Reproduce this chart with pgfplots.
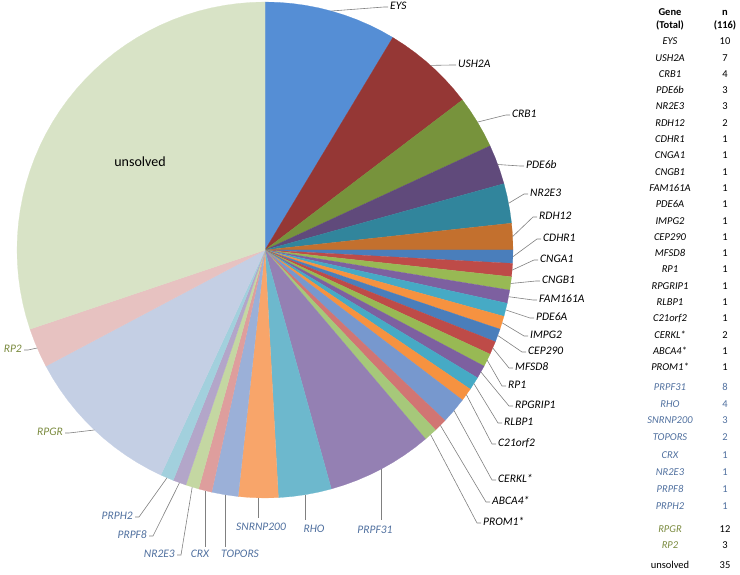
\documentclass[border=0pt]{standalone}
\usepackage{fontspec}
\setmainfont{Carlito}
\usepackage{pgfplots}
\pgfplotsset{compat=1.18}
\usepgfplotslibrary{polar}

% slice colours (Excel-like palette, darker / standard / lighter rounds)
\definecolor{cEYS}{HTML}{558ED5}
\definecolor{cUSH}{HTML}{953735}
\definecolor{cCRB}{HTML}{77933C}
\definecolor{cPDEb}{HTML}{604A7B}
\definecolor{cNRa}{HTML}{31859C}
\definecolor{cRDH}{HTML}{C3702E}
\definecolor{sBlue}{HTML}{4A7EBB}
\definecolor{sRed}{HTML}{BE4B48}
\definecolor{sGreen}{HTML}{98B954}
\definecolor{sPurple}{HTML}{7D60A0}
\definecolor{sTeal}{HTML}{46AAC5}
\definecolor{sOrange}{HTML}{F69240}
\definecolor{cCERKL}{HTML}{7798CE}
\definecolor{cABCA}{HTML}{D17573}
\definecolor{cPROM}{HTML}{A6C87A}
\definecolor{cPRPF31}{HTML}{9480B3}
\definecolor{cRHO}{HTML}{6DB8CD}
\definecolor{cSNR}{HTML}{F8A56A}
\definecolor{cTOP}{HTML}{9BB0D8}
\definecolor{cCRX}{HTML}{DE9E9D}
\definecolor{cNRb}{HTML}{C4D7A2}
\definecolor{cPRPF8}{HTML}{B3A6C9}
\definecolor{cPRPH}{HTML}{A2D0DD}
\definecolor{cRPGR}{HTML}{C4CFE4}
\definecolor{cRP2}{HTML}{E7C2C1}
\definecolor{cUns}{HTML}{D8E3C6}
\definecolor{txtBlue}{HTML}{50709F}
\definecolor{txtOlive}{HTML}{7A8A3E}
\definecolor{leader}{HTML}{808080}

\tikzset{
  lbl/.style={font=\fontsize{11.5}{13}\selectfont\itshape, inner sep=0pt, text height=8pt, text depth=2.5pt},
  tab/.style={font=\fontsize{10.5}{12}\selectfont, inner sep=0pt, text height=7.5pt, text depth=2pt},
  tabi/.style={tab, font=\fontsize{10.5}{12}\selectfont\itshape},
  tabb/.style={tab, font=\fontsize{10.5}{12}\selectfont\bfseries},
  ld/.style={draw=leader, line width=0.6pt},
}
\pgfplotsset{slice/.style={data cs=polar, fill=#1, draw=#1, line width=0.2pt, mark=none}}

\begin{document}
\begin{tikzpicture}
\begin{axis}[
    x=1pt, y=1pt,
    xmin=-265, xmax=475,
    ymin=-324, ymax=250,
    hide axis,
    clip=false,
]
% pie: (angle in degrees, radius); 116 cases, clockwise from the top
\addplot[slice=cEYS] coordinates {(90,0) (90,248) (86.90,248) (83.79,248) (80.69,248) (77.59,248) (74.48,248) (71.38,248) (68.28,248) (65.17,248) (62.07,248) (58.97,248) (58.97,0)};
\addplot[slice=cUSH] coordinates {(58.97,0) (58.97,248) (55.86,248) (52.76,248) (49.66,248) (46.55,248) (43.45,248) (40.34,248) (37.24,248) (37.24,0)};
\addplot[slice=cCRB] coordinates {(37.24,0) (37.24,248) (34.14,248) (31.03,248) (27.93,248) (24.83,248) (24.83,0)};
\addplot[slice=cPDEb] coordinates {(24.83,0) (24.83,248) (21.72,248) (18.62,248) (15.52,248) (15.52,0)};
\addplot[slice=cNRa] coordinates {(15.52,0) (15.52,248) (12.41,248) (9.31,248) (6.21,248) (6.21,0)};
\addplot[slice=cRDH] coordinates {(6.21,0) (6.21,248) (3.10,248) (0,248) (0,0)};
\addplot[slice=sBlue] coordinates {(0,0) (0,248) (-3.10,248) (-3.10,0)};
\addplot[slice=sRed] coordinates {(-3.10,0) (-3.10,248) (-6.21,248) (-6.21,0)};
\addplot[slice=sGreen] coordinates {(-6.21,0) (-6.21,248) (-9.31,248) (-9.31,0)};
\addplot[slice=sPurple] coordinates {(-9.31,0) (-9.31,248) (-12.41,248) (-12.41,0)};
\addplot[slice=sTeal] coordinates {(-12.41,0) (-12.41,248) (-15.52,248) (-15.52,0)};
\addplot[slice=sOrange] coordinates {(-15.52,0) (-15.52,248) (-18.62,248) (-18.62,0)};
\addplot[slice=sBlue] coordinates {(-18.62,0) (-18.62,248) (-21.72,248) (-21.72,0)};
\addplot[slice=sRed] coordinates {(-21.72,0) (-21.72,248) (-24.83,248) (-24.83,0)};
\addplot[slice=sGreen] coordinates {(-24.83,0) (-24.83,248) (-27.93,248) (-27.93,0)};
\addplot[slice=sPurple] coordinates {(-27.93,0) (-27.93,248) (-31.03,248) (-31.03,0)};
\addplot[slice=sTeal] coordinates {(-31.03,0) (-31.03,248) (-34.14,248) (-34.14,0)};
\addplot[slice=sOrange] coordinates {(-34.14,0) (-34.14,248) (-37.24,248) (-37.24,0)};
\addplot[slice=cCERKL] coordinates {(-37.24,0) (-37.24,248) (-40.34,248) (-43.45,248) (-43.45,0)};
\addplot[slice=cABCA] coordinates {(-43.45,0) (-43.45,248) (-46.55,248) (-46.55,0)};
\addplot[slice=cPROM] coordinates {(-46.55,0) (-46.55,248) (-49.66,248) (-49.66,0)};
\addplot[slice=cPRPF31] coordinates {(-49.66,0) (-49.66,248) (-52.76,248) (-55.86,248) (-58.97,248) (-62.07,248) (-65.17,248) (-68.28,248) (-71.38,248) (-74.48,248) (-74.48,0)};
\addplot[slice=cRHO] coordinates {(-74.48,0) (-74.48,248) (-77.59,248) (-80.69,248) (-83.79,248) (-86.90,248) (-86.90,0)};
\addplot[slice=cSNR] coordinates {(-86.90,0) (-86.90,248) (-90,248) (-93.10,248) (-96.21,248) (-96.21,0)};
\addplot[slice=cTOP] coordinates {(-96.21,0) (-96.21,248) (-99.31,248) (-102.41,248) (-102.41,0)};
\addplot[slice=cCRX] coordinates {(-102.41,0) (-102.41,248) (-105.52,248) (-105.52,0)};
\addplot[slice=cNRb] coordinates {(-105.52,0) (-105.52,248) (-108.62,248) (-108.62,0)};
\addplot[slice=cPRPF8] coordinates {(-108.62,0) (-108.62,248) (-111.72,248) (-111.72,0)};
\addplot[slice=cPRPH] coordinates {(-111.72,0) (-111.72,248) (-114.83,248) (-114.83,0)};
\addplot[slice=cRPGR] coordinates {(-114.83,0) (-114.83,248) (-117.93,248) (-121.03,248) (-124.14,248) (-127.24,248) (-130.34,248) (-133.45,248) (-136.55,248) (-139.66,248) (-142.76,248) (-145.86,248) (-148.97,248) (-152.07,248) (-152.07,0)};
\addplot[slice=cRP2] coordinates {(-152.07,0) (-152.07,248) (-155.17,248) (-158.28,248) (-161.38,248) (-161.38,0)};
\addplot[slice=cUns] coordinates {(-161.38,0) (-161.38,248) (-164.48,248) (-167.59,248) (-170.69,248) (-173.79,248) (-176.90,248) (-180,248) (-183.10,248) (-186.21,248) (-189.31,248) (-192.41,248) (-195.52,248) (-198.62,248) (-201.72,248) (-204.83,248) (-207.93,248) (-211.03,248) (-214.14,248) (-217.24,248) (-220.34,248) (-223.45,248) (-226.55,248) (-229.66,248) (-232.76,248) (-235.86,248) (-238.97,248) (-242.07,248) (-245.17,248) (-248.28,248) (-251.38,248) (-254.48,248) (-257.59,248) (-260.69,248) (-263.79,248) (-266.90,248) (-270,248) (-270,0)};

\node[font=\fontsize{14}{16}\selectfont] at (axis cs:-125,88) {unsolved};

% right-hand labels
\draw[ld] (axis cs:66.4,239.0) -- (axis cs:119,243) -- (axis cs:123,243);
\node[lbl, anchor=west] at (axis cs:125,243) {EYS};
\draw[ld] (axis cs:165.6,184.6) -- (axis cs:187,185) -- (axis cs:191,185);
\node[lbl, anchor=west] at (axis cs:193,185) {USH2A};
\draw[ld] (axis cs:212.5,127.9) -- (axis cs:241,135) -- (axis cs:245,135);
\node[lbl, anchor=west] at (axis cs:247,135) {CRB1};
\draw[ld] (axis cs:232.8,85.5) -- (axis cs:255,84) -- (axis cs:259,84);
\node[lbl, anchor=west] at (axis cs:261,84) {PDE6b};
\draw[ld] (axis cs:243.6,46.7) -- (axis cs:259,56) -- (axis cs:263,56);
\node[lbl, anchor=west] at (axis cs:265,56) {NR2E3};
\draw[ld] (axis cs:247.6,13.4) -- (axis cs:268,33) -- (axis cs:272,33);
\node[lbl, anchor=west] at (axis cs:274,33) {RDH12};
\draw[ld] (axis cs:247.9,-6.7) -- (axis cs:272,11) -- (axis cs:276,11);
\node[lbl, anchor=west] at (axis cs:278,11) {CDHR1};
\draw[ld] (axis cs:247.2,-20.1) -- (axis cs:269,-10) -- (axis cs:273,-10);
\node[lbl, anchor=west] at (axis cs:275,-10) {CNGA1};
\draw[ld] (axis cs:245.7,-33.5) -- (axis cs:271,-31) -- (axis cs:275,-31);
\node[lbl, anchor=west] at (axis cs:277,-31) {CNGB1};
\draw[ld] (axis cs:243.6,-46.7) -- (axis cs:268,-50) -- (axis cs:272,-50);
\node[lbl, anchor=west] at (axis cs:274,-50) {FAM161A};
\draw[ld] (axis cs:240.7,-59.9) -- (axis cs:265,-68) -- (axis cs:269,-68);
\node[lbl, anchor=west] at (axis cs:271,-68) {PDE6A};
\draw[ld] (axis cs:237.1,-72.8) -- (axis cs:259,-86) -- (axis cs:263,-86);
\node[lbl, anchor=west] at (axis cs:265,-86) {IMPG2};
\draw[ld] (axis cs:232.8,-85.5) -- (axis cs:257,-102) -- (axis cs:261,-102);
\node[lbl, anchor=west] at (axis cs:263,-102) {CEP290};
\draw[ld] (axis cs:227.8,-98.0) -- (axis cs:244,-118) -- (axis cs:248,-118);
\node[lbl, anchor=west] at (axis cs:250,-118) {MFSD8};
\draw[ld] (axis cs:222.2,-110.2) -- (axis cs:237,-136) -- (axis cs:241,-136);
\node[lbl, anchor=west] at (axis cs:243,-136) {RP1};
\draw[ld] (axis cs:215.9,-122.0) -- (axis cs:244,-156) -- (axis cs:248,-156);
\node[lbl, anchor=west] at (axis cs:250,-156) {RPGRIP1};
\draw[ld] (axis cs:208.9,-133.6) -- (axis cs:233,-173) -- (axis cs:237,-173);
\node[lbl, anchor=west] at (axis cs:239,-173) {RLBP1};
\draw[ld] (axis cs:201.4,-144.7) -- (axis cs:227,-194) -- (axis cs:231,-194);
\node[lbl, anchor=west] at (axis cs:233,-194) {C21orf2};
\draw[ld] (axis cs:189.0,-160.5) -- (axis cs:227,-230) -- (axis cs:231,-230);
\node[lbl, anchor=west] at (axis cs:233,-230) {CERKL*};
\draw[ld] (axis cs:175.4,-175.4) -- (axis cs:221,-252) -- (axis cs:225,-252);
\node[lbl, anchor=west] at (axis cs:227,-252) {ABCA4*};
\draw[ld] (axis cs:165.6,-184.6) -- (axis cs:212,-273) -- (axis cs:216,-273);
\node[lbl, anchor=west] at (axis cs:218,-273) {PROM1*};

% bottom labels
\draw[ld] (axis cs:116.1,-219.1) -- (axis cs:116.1,-270);
\node[lbl, text=txtBlue] at (axis cs:110,-281) {PRPF31};
\draw[ld] (axis cs:40.1,-244.7) -- (axis cs:40.1,-270);
\node[lbl, text=txtBlue] at (axis cs:49,-280) {RHO};
\draw[ld] (axis cs:-6.7,-247.9) -- (axis cs:-6.7,-268);
\node[lbl, text=txtBlue] at (axis cs:-4,-278) {SNRNP200};
\draw[ld] (axis cs:-40.1,-244.7) -- (axis cs:-40.1,-297);
\node[lbl, text=txtBlue] at (axis cs:-25,-305) {TOPORS};
\draw[ld] (axis cs:-59.9,-240.7) -- (axis cs:-59.9,-297);
\node[lbl, text=txtBlue] at (axis cs:-65,-305) {CRX};
\draw[ld] (axis cs:-72.8,-237.1) -- (axis cs:-84,-305) -- (axis cs:-88,-305);
\node[lbl, text=txtBlue, anchor=east] at (axis cs:-90,-305) {NR2E3};
\draw[ld] (axis cs:-85.5,-232.8) -- (axis cs:-112,-286) -- (axis cs:-116,-286);
\node[lbl, text=txtBlue, anchor=east] at (axis cs:-118,-286) {PRPF8};
\draw[ld] (axis cs:-98.0,-227.8) -- (axis cs:-126,-267) -- (axis cs:-130,-267);
\node[lbl, text=txtBlue, anchor=east] at (axis cs:-132,-267) {PRPH2};
\draw[ld] (axis cs:-170.6,-180.0) -- (axis cs:-196,-183) -- (axis cs:-200,-183);
\node[lbl, text=txtOlive, anchor=east] at (axis cs:-202,-183) {RPGR};
\draw[ld] (axis cs:-227.8,-98.0) -- (axis cs:-237,-100) -- (axis cs:-241,-100);
\node[lbl, text=txtOlive, anchor=east] at (axis cs:-243,-100) {RP2};

% table
\node[tabb] at (axis cs:405,237) {Gene};
\node[tabb] at (axis cs:405,224) {(Total)};
\node[tabb] at (axis cs:460,237) {n};
\node[tabb] at (axis cs:460,224) {(116)};
\node[tabi] at (axis cs:405,208) {EYS};       \node[tab] at (axis cs:460,208) {10};
\node[tabi] at (axis cs:405,191.7) {USH2A};   \node[tab] at (axis cs:460,191.7) {7};
\node[tabi] at (axis cs:405,175.4) {CRB1};    \node[tab] at (axis cs:460,175.4) {4};
\node[tabi] at (axis cs:405,159.1) {PDE6b};   \node[tab] at (axis cs:460,159.1) {3};
\node[tabi] at (axis cs:405,142.8) {NR2E3};   \node[tab] at (axis cs:460,142.8) {3};
\node[tabi] at (axis cs:405,126.5) {RDH12};   \node[tab] at (axis cs:460,126.5) {2};
\node[tabi] at (axis cs:405,110.2) {CDHR1};   \node[tab] at (axis cs:460,110.2) {1};
\node[tabi] at (axis cs:405,93.9) {CNGA1};    \node[tab] at (axis cs:460,93.9) {1};
\node[tabi] at (axis cs:405,77.6) {CNGB1};    \node[tab] at (axis cs:460,77.6) {1};
\node[tabi] at (axis cs:405,61.3) {FAM161A};  \node[tab] at (axis cs:460,61.3) {1};
\node[tabi] at (axis cs:405,45) {PDE6A};      \node[tab] at (axis cs:460,45) {1};
\node[tabi] at (axis cs:405,28.7) {IMPG2};    \node[tab] at (axis cs:460,28.7) {1};
\node[tabi] at (axis cs:405,12.4) {CEP290};   \node[tab] at (axis cs:460,12.4) {1};
\node[tabi] at (axis cs:405,-3.9) {MFSD8};    \node[tab] at (axis cs:460,-3.9) {1};
\node[tabi] at (axis cs:405,-20.2) {RP1};     \node[tab] at (axis cs:460,-20.2) {1};
\node[tabi] at (axis cs:405,-36.5) {RPGRIP1}; \node[tab] at (axis cs:460,-36.5) {1};
\node[tabi] at (axis cs:405,-52.8) {RLBP1};   \node[tab] at (axis cs:460,-52.8) {1};
\node[tabi] at (axis cs:405,-69.1) {C21orf2}; \node[tab] at (axis cs:460,-69.1) {1};
\node[tabi] at (axis cs:405,-85.4) {CERKL*};  \node[tab] at (axis cs:460,-85.4) {2};
\node[tabi] at (axis cs:405,-101.7) {ABCA4*}; \node[tab] at (axis cs:460,-101.7) {1};
\node[tabi] at (axis cs:405,-118) {PROM1*};   \node[tab] at (axis cs:460,-118) {1};
\node[tabi, text=txtBlue] at (axis cs:405,-138) {PRPF31};   \node[tab, text=txtBlue] at (axis cs:460,-138) {8};
\node[tabi, text=txtBlue] at (axis cs:405,-155) {RHO};      \node[tab, text=txtBlue] at (axis cs:460,-155) {4};
\node[tabi, text=txtBlue] at (axis cs:405,-171) {SNRNP200}; \node[tab, text=txtBlue] at (axis cs:460,-171) {3};
\node[tabi, text=txtBlue] at (axis cs:405,-188) {TOPORS};   \node[tab, text=txtBlue] at (axis cs:460,-188) {2};
\node[tabi, text=txtBlue] at (axis cs:405,-206) {CRX};      \node[tab, text=txtBlue] at (axis cs:460,-206) {1};
\node[tabi, text=txtBlue] at (axis cs:405,-223) {NR2E3};    \node[tab, text=txtBlue] at (axis cs:460,-223) {1};
\node[tabi, text=txtBlue] at (axis cs:405,-240) {PRPF8};    \node[tab, text=txtBlue] at (axis cs:460,-240) {1};
\node[tabi, text=txtBlue] at (axis cs:405,-257) {PRPH2};    \node[tab, text=txtBlue] at (axis cs:460,-257) {1};
\node[tabi, text=txtOlive] at (axis cs:405,-280) {RPGR};    \node[tab] at (axis cs:460,-280) {12};
\node[tabi, text=txtOlive] at (axis cs:405,-296) {RP2};     \node[tab] at (axis cs:460,-296) {3};
\node[tab] at (axis cs:405,-316) {unsolved};                \node[tab] at (axis cs:460,-316) {35};

\coordinate (bbsw) at (axis cs:-265,-324);
\coordinate (bbne) at (axis cs:475,250);
\end{axis}
\pgfresetboundingbox
\path[use as bounding box] (bbsw) rectangle (bbne);
\end{tikzpicture}
\end{document}
